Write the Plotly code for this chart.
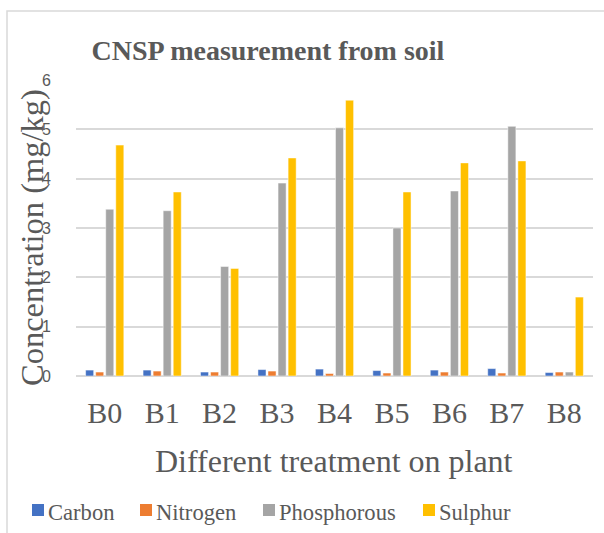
import plotly.graph_objects as go

categories = ["B0", "B1", "B2", "B3", "B4", "B5", "B6", "B7", "B8"]
carbon = [0.12, 0.12, 0.08, 0.13, 0.14, 0.11, 0.12, 0.15, 0.07]
nitrogen = [0.08, 0.10, 0.08, 0.10, 0.05, 0.06, 0.08, 0.06, 0.08]
phosphorous = [3.38, 3.35, 2.22, 3.91, 5.03, 3.00, 3.75, 5.06, 0.08]
sulphur = [4.68, 3.73, 2.18, 4.42, 5.59, 3.73, 4.32, 4.36, 1.60]
y_ticks = [0, 1, 2, 3, 4, 5, 6]
series_names = ["Carbon", "Nitrogen", "Phosphorous", "Sulphur"]
series_colors = ["#4472C4", "#ED7D31", "#A5A5A5", "#FFC000"]
series_values = [carbon, nitrogen, phosphorous, sulphur]

W, H = 604, 533
ML, MR, MT, MB = 76, 11, 80, 157
TXT = "#595959"
SERIF = "Liberation Serif"

fig = go.Figure()
for name, vals, col in zip(series_names, series_values, series_colors):
    fig.add_trace(go.Bar(
        x=categories, y=vals, name=name,
        marker=dict(color=col, line=dict(color="rgba(255,255,255,0.6)", width=0.8)),
    ))

pw = W - ML - MR
ph = H - MT - MB

def px_to_paper_x(px):
    return (px - ML) / pw

def px_to_paper_y(py):
    return (H - MB - py) / ph

# manual legend layout (pixel positions of legend swatches / labels)
legend_swatch_x = [32, 140, 263, 423]
legend_y = 510
sw = 12

annotations = [
    dict(text="Different treatment on plant", xref="paper", yref="paper",
         x=px_to_paper_x(334), y=px_to_paper_y(461), xanchor="center", yanchor="middle",
         showarrow=False, font=dict(family=SERIF, size=32, color=TXT)),
    dict(text="Concentration (mg/kg)", xref="paper", yref="paper",
         x=px_to_paper_x(32), y=px_to_paper_y(238), xanchor="center", yanchor="middle",
         textangle=-90, showarrow=False, font=dict(family=SERIF, size=32.5, color=TXT)),
]
shapes = [
    dict(type="rect", xref="paper", yref="paper",
         x0=px_to_paper_x(7), x1=px_to_paper_x(W + 20),
         y0=px_to_paper_y(H + 20), y1=px_to_paper_y(11),
         line=dict(color="#D9D9D9", width=1.5), fillcolor="rgba(0,0,0,0)", layer="below"),
]
for name, col, sx in zip(series_names, series_colors, legend_swatch_x):
    shapes.append(dict(type="rect", xref="paper", yref="paper",
                       x0=px_to_paper_x(sx), x1=px_to_paper_x(sx + sw),
                       y0=px_to_paper_y(legend_y + sw / 2), y1=px_to_paper_y(legend_y - sw / 2),
                       line=dict(width=0), fillcolor=col))
    annotations.append(dict(text=name, xref="paper", yref="paper",
                            x=px_to_paper_x(sx + sw + 2), y=px_to_paper_y(legend_y + 2),
                            xanchor="left", yanchor="middle", showarrow=False,
                            font=dict(family=SERIF, size=22.6, color=TXT)))

fig.update_layout(
    width=W, height=H,
    margin=dict(l=ML, r=MR, t=MT, b=MB),
    plot_bgcolor="white", paper_bgcolor="white",
    barmode="group", bargap=0.30, bargroupgap=0.2,
    showlegend=False,
    title=dict(
        text="<b>CNSP measurement from soil</b>",
        font=dict(family=SERIF, size=28, color=TXT),
        x=268 / W, xanchor="center", xref="container",
        y=1 - 50 / H, yanchor="middle", yref="container",
    ),
    xaxis=dict(
        showgrid=False, showline=False, zeroline=False,
        tickfont=dict(family=SERIF, size=30, color=TXT),
        ticks="", ticklabelstandoff=16,
    ),
    yaxis=dict(
        range=[0, 6], tickvals=y_ticks,
        showgrid=True, gridcolor="#D9D9D9", gridwidth=1.5,
        zeroline=True, zerolinecolor="#D9D9D9", zerolinewidth=2,
        showline=False, ticks="",
        tickfont=dict(family="Liberation Sans", size=16, color=TXT),
        ticklabelstandoff=24,
    ),
    annotations=annotations,
    shapes=shapes,
)

fig.write_html("out.html", config={"displayModeBar": False},
               post_script="document.body.style.margin='0';document.body.style.padding='0';")
